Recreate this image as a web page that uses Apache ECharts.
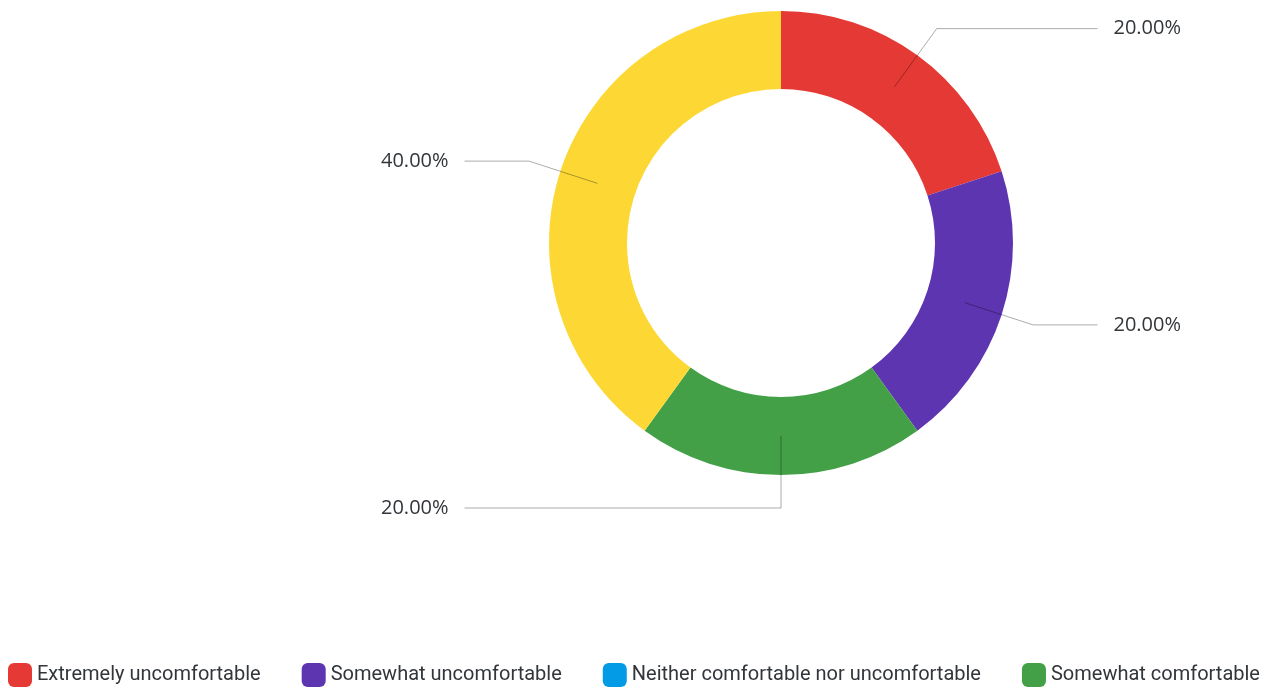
<!DOCTYPE html>
<html>
<head>
<meta charset="utf-8">
<title>Comfort level</title>
<script src="https://cdn.jsdelivr.net/npm/echarts@6/dist/echarts.min.js"></script>
<style>
  html, body { margin: 0; padding: 0; background: #fff; }
  #chart { width: 1272px; height: 691px; }
</style>
</head>
<body>
<div id="chart"></div>
<script>
// Response categories, in legend order
const categories = [
  'Extremely uncomfortable',
  'Somewhat uncomfortable',
  'Neither comfortable nor uncomfortable',
  'Somewhat comfortable',
  'Extremely comfortable'
];
// Share of responses (percent)
const values = [20, 20, 0, 20, 40];
// Slice colours
const colors = ['#E53935', '#5E35B1', '#039BE5', '#43A047', '#FDD835'];
// Legend entries shown along the bottom
const legendItems = categories.slice(0, 4);

const LABEL_FONT = '"Open Sans", "Noto Sans", sans-serif';
const LEGEND_FONT = 'Roboto, "Noto Sans", sans-serif';
const TEXT = '#32363A';

const ringData = categories.map((name, i) => ({
  name: name,
  value: values[i],
  itemStyle: { color: colors[i] }
}));

// Transparent companion pie: its rim sits in the middle of the ring,
// so the leader lines start inside each slice.
const labelData = categories.map((name, i) => ({
  name: name,
  value: values[i],
  label: { show: values[i] > 0 },
  labelLine: { show: values[i] > 0 }
}));

// A slice centred straight down gets its label on the left-hand side.
function bottomLabelToLeft(p) {
  const pts = p.labelLinePoints;
  if (!pts || pts.length < 3) return {};
  const axis = pts[1][0];
  const vertical = Math.abs(pts[0][0] - axis) < 0.5 && pts[1][1] > pts[0][1];
  if (!vertical || pts[2][0] <= axis) return {};
  const r = p.labelRect;
  return {
    x: 2 * axis - (r.x + r.width),
    align: 'left',
    labelLinePoints: [
      [pts[0][0], pts[0][1]],
      [pts[1][0], pts[1][1]],
      [2 * axis - pts[2][0], pts[2][1]]
    ]
  };
}

const box = { left: 371, width: 820, top: -50, height: 586 };

const chart = echarts.init(document.getElementById('chart'), null, { renderer: 'canvas' });
chart.setOption({
  animation: false,
  legend: {
    data: legendItems,
    left: 8,
    top: 663,
    padding: 0,
    width: 3000,
    orient: 'horizontal',
    icon: 'roundRect',
    itemWidth: 24,
    itemHeight: 24,
    itemGap: 41,
    selectedMode: false,
    textStyle: { fontFamily: LEGEND_FONT, fontSize: 20, color: TEXT }
  },
  series: [
    Object.assign({
      type: 'pie',
      name: 'ring',
      z: 2,
      center: ['50%', '50%'],
      radius: [154, 232],
      startAngle: 90,
      clockwise: true,
      avoidLabelOverlap: false,
      silent: true,
      label: { show: false },
      labelLine: { show: false },
      emphasis: { disabled: true },
      data: ringData
    }, box),
    Object.assign({
      type: 'pie',
      name: 'labels',
      z: 5,
      center: ['50%', '50%'],
      radius: [0, 193],
      startAngle: 90,
      clockwise: true,
      silent: true,
      itemStyle: { color: 'rgba(0,0,0,0)' },
      emphasis: { disabled: true },
      label: {
        show: true,
        position: 'outside',
        alignTo: 'edge',
        edgeDistance: 10,
        distanceToLabelLine: 16,
        fontFamily: LABEL_FONT,
        fontSize: 20,
        color: TEXT,
        formatter: p => p.percent.toFixed(2) + '%'
      },
      labelLine: {
        show: true,
        length: 72,
        length2: 10,
        lineStyle: { color: 'rgba(0,0,0,0.33)', width: 1 }
      },
      labelLayout: bottomLabelToLeft,
      data: labelData
    }, box)
  ]
});
</script>
</body>
</html>
